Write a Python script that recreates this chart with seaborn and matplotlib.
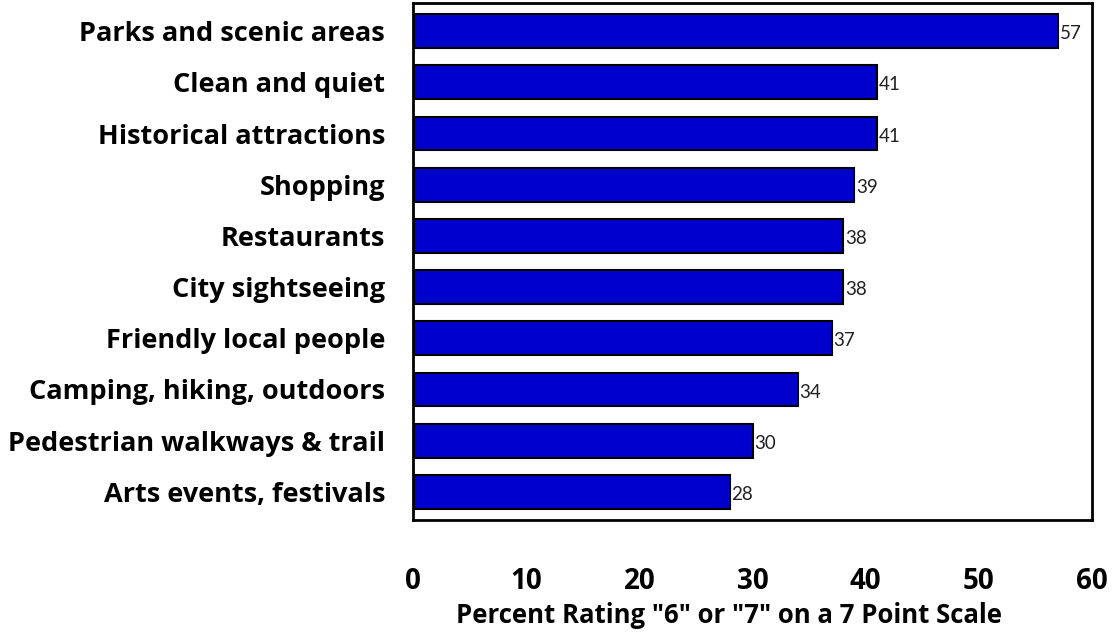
import matplotlib
matplotlib.use("Agg")
import matplotlib.pyplot as plt
import seaborn as sns
import pandas as pd

categories = ["Parks and scenic areas", "Clean and quiet", "Historical attractions",
              "Shopping", "Restaurants", "City sightseeing", "Friendly local people",
              "Camping, hiking, outdoors", "Pedestrian walkways & trail",
              "Arts events, festivals"]
values = [57, 41, 41, 39, 38, 38, 37, 34, 30, 28]
xticks = [0, 10, 20, 30, 40, 50, 60]
xlabel = 'Percent Rating "6" or "7" on a 7 Point Scale'

sns.set_theme(style="white")
plt.rcParams['font.family'] = ['Open Sans', 'DejaVu Sans']

df = pd.DataFrame({"cat": categories, "val": values})

fig = plt.figure(figsize=(11.14, 6.34), dpi=100)
ax = fig.add_axes([413/1114, 1 - 520/634, (1092-413)/1114, (520-3)/634])

sns.barplot(data=df, x="val", y="cat", orient="h", color="#0000CC",
            saturation=1, width=0.66, edgecolor="black", linewidth=1.5, ax=ax)

for i, v in enumerate(values):
    ax.text(v + 0.15, i + 0.05, str(v), va="center", ha="left", fontsize=13.5,
            color="#222222", family=["Lato", "DejaVu Sans"])

ax.set_xlim(0, 60)
ax.set_ylim(9.55, -0.55)
ax.set_xticks(xticks)
ax.set_xticklabels([str(t) for t in xticks], fontsize=20, fontweight="bold",
                   color="black")
ax.tick_params(axis="x", pad=34, length=0)
ax.tick_params(axis="y", length=0, pad=20)
for lbl in ax.get_yticklabels():
    lbl.set_fontsize(19.5)
    lbl.set_fontweight("bold")
    lbl.set_color("black")
ax.set_ylabel("")
ax.set_xlabel(xlabel, fontsize=18.5, fontweight="bold", color="black")
ax.xaxis.set_label_coords(0.465, -0.158)
for s in ax.spines.values():
    s.set_visible(True)
    s.set_color("black")
    s.set_linewidth(2)

fig.savefig("out.png", dpi=100)
